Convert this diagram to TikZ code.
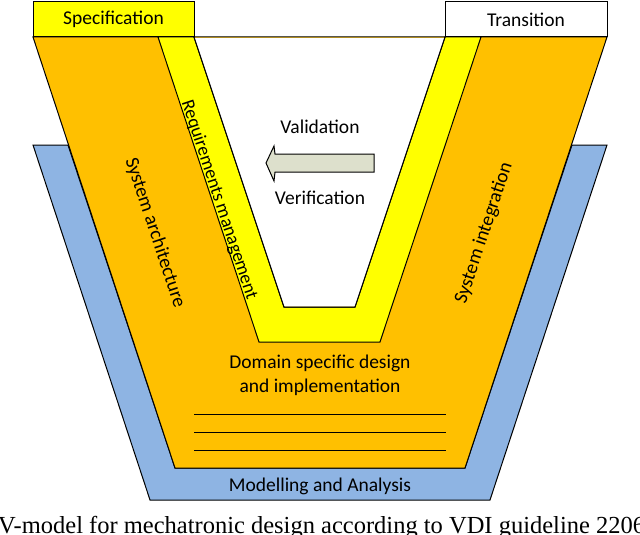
\documentclass[tikz,border=0pt]{standalone}
\usepackage{fontspec}
\setmainfont{Carlito}
\newfontfamily\capfont{Liberation Serif}
\definecolor{orng}{HTML}{FFC000}
\definecolor{yel}{HTML}{FFFF00}
\definecolor{blu}{HTML}{8EB4E3}
\definecolor{grn}{HTML}{DDE0CC}
\begin{document}
\begin{tikzpicture}[x=1pt,y=-1pt,line join=miter,
  shp/.style={draw=black,line width=1pt},
  lbl/.style={font=\fontsize{19.5}{22}\selectfont,inner sep=0pt}]
\useasboundingbox (0,0) rectangle (640,535);
% blue
\draw[shp,fill=blu] (33,145) -- (68,145) -- (175,468) -- (465,468) -- (572,145) -- (607,145) -- (490,500) -- (150,500) -- cycle;
% orange
\draw[shp,fill=orng] (33,37) -- (607,37) -- (465,468) -- (175,468) -- cycle;
% yellow strip
\draw[shp,fill=yel] (158,37) -- (194,37) -- (284,307) -- (355,307) -- (445,37) -- (481,37) -- (380,342) -- (259,342) -- cycle;
\fill[white] (194.5,38) -- (284,306.5) -- (355,306.5) -- (444.5,38) -- cycle;
\draw[line width=1pt] (194,37) -- (284,307) -- (355,307) -- (445,37);
% boxes
\draw[shp,fill=yel] (33,2) rectangle (194,37);
\draw[shp,fill=white] (445,2) rectangle (607,37);
\node[lbl] (spec) at (113.5,19.5) {Specification};
\node[lbl] (trans) at (526,19.5) {Transition};
% arrow
\draw[shp,fill=grn] (374,154) -- (275,154) -- (274,146) -- (266,163) -- (274,181) -- (275,172) -- (374,172) -- cycle;
\node[lbl] (val) at (320,127) {Validation};
\node[lbl] (ver) at (320,198) {Verification};
% rotated
\node[lbl,rotate=-71.7,font=\fontsize{18.5}{22}\selectfont] (req) at (219,200) {Requirements management};
\node[lbl,rotate=-71.7] (sa) at (155,233) {System architecture};
\node[lbl,rotate=71.7] (si) at (484,233) {System integration};
\node[lbl] (dom1) at (320,363) {Domain specific design};
\node[lbl] (dom2) at (320,387) {and implementation};
\foreach \y in {414,432,450} \draw[line width=1pt] (194,\y) -- (446,\y);
\node[lbl] (mod) at (320,486) {Modelling and Analysis};
\node[inner sep=0pt,anchor=west,font=\capfont\fontsize{24.5}{26}\selectfont] (cap) at (-2,528) {V-model for mechatronic design according to VDI guideline 2206};
\end{tikzpicture}
\end{document}
